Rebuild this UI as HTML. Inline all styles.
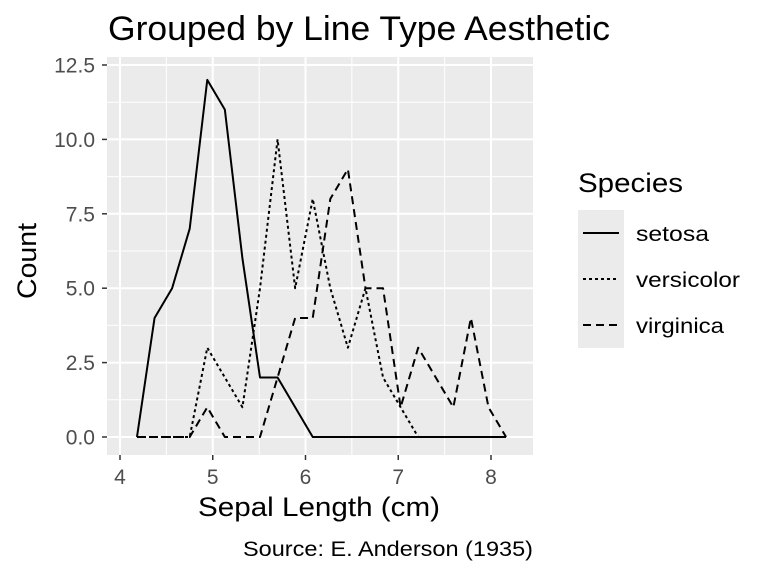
<!DOCTYPE html>
<html><head><meta charset="utf-8"><style>
body{margin:0;background:#fff;font-family:"Liberation Sans",Arial,sans-serif}
</style></head><body>
<svg width="768" height="576" xmlns="http://www.w3.org/2000/svg" font-family="Liberation Sans, Arial, sans-serif">
<rect width="768" height="576" fill="#fff"/>
<text x="108" y="40" font-size="34" textLength="502" lengthAdjust="spacingAndGlyphs" fill="#000">Grouped by Line Type Aesthetic</text>
<rect x="107" y="57" width="426" height="398" fill="#ebebeb"/>
<g id="grid"></g>
<g id="lines"></g>
<g id="axes"></g>
<text x="319" y="516" font-size="27" textLength="242" lengthAdjust="spacingAndGlyphs" text-anchor="middle">Sepal Length (cm)</text>
<text transform="translate(36,261) rotate(-90)" font-size="27" textLength="76" lengthAdjust="spacingAndGlyphs" text-anchor="middle">Count</text>
<text x="533" y="556" font-size="21" textLength="290" lengthAdjust="spacingAndGlyphs" text-anchor="end">Source: E. Anderson (1935)</text>
<g>
<text x="578" y="192" font-size="27" textLength="105" lengthAdjust="spacingAndGlyphs">Species</text>
<rect x="578" y="210" width="46" height="138" fill="#ebebeb"/>
<line x1="583" y1="233" x2="619" y2="233" stroke="#000" stroke-width="2"/>
<line x1="583" y1="279" x2="619" y2="279" stroke="#000" stroke-width="2" stroke-dasharray="3,3"/>
<line x1="583" y1="325" x2="619" y2="325" stroke="#000" stroke-width="2" stroke-dasharray="8,5"/>
<text x="636" y="241" font-size="21" textLength="73" lengthAdjust="spacingAndGlyphs">setosa</text>
<text x="636" y="287" font-size="21" textLength="104" lengthAdjust="spacingAndGlyphs">versicolor</text>
<text x="636" y="333" font-size="21" textLength="88" lengthAdjust="spacingAndGlyphs">virginica</text>
</g>
</svg>
<script>
const binStart = 4.183, binWidth = 0.1895;
const setosa = [0,4,5,7,12,11,6,2,2,1,0,0,0,0,0,0,0,0,0,0,0,0];
const versicolor = [0,0,0,0,3,2,1,5,10,5,8,5,3,5,2,1,0,0,0,0,0,0];
const virginica = [0,0,0,0,1,0,0,0,2,4,4,8,9,5,5,1,3,2,1,4,1,0];
const xTicks = [4,5,6,7,8];
const yTicks = [0,2.5,5,7.5,10,12.5];
const X = v => 120 + (v-4)*92.75;
const Y = v => 437 - v*29.76;
const NS="http://www.w3.org/2000/svg";
function mk(tag, attrs, parent){const e=document.createElementNS(NS,tag);for(const k in attrs)e.setAttribute(k,attrs[k]);document.getElementById(parent).appendChild(e);return e;}
for(let i=0;i<xTicks.length-1;i++){const m=(xTicks[i]+xTicks[i+1])/2;const e=mk('line',{x1:X(m),x2:X(m),y1:57,y2:455,stroke:'#fff','stroke-width':1},'grid');

}
for(let i=0;i<yTicks.length-1;i++){const m=(yTicks[i]+yTicks[i+1])/2;const e=mk('line',{x1:107,x2:533,y1:Y(m),y2:Y(m),stroke:'#fff','stroke-width':1},'grid');

}
xTicks.forEach(t=>{const e=mk('line',{x1:X(t),x2:X(t),y1:57,y2:455,stroke:'#fff','stroke-width':2},'grid');


const tk=mk('line',{x1:X(t),x2:X(t),y1:455,y2:460,stroke:'#333','stroke-width':1.5},'axes');


const l=mk('text',{x:X(t),y:484,'font-size':21,'text-anchor':'middle',fill:'#4d4d4d'},'axes');l.textContent=t;

});
yTicks.forEach(t=>{const e=mk('line',{x1:107,x2:533,y1:Y(t),y2:Y(t),stroke:'#fff','stroke-width':2},'grid');


const tk=mk('line',{x1:102,x2:107,y1:Y(t),y2:Y(t),stroke:'#333','stroke-width':1.5},'axes');


const l=mk('text',{x:95,y:Y(t)+7.5,'font-size':21,'text-anchor':'end',fill:'#4d4d4d'},'axes');l.textContent=t.toFixed(1);

});
function series(arr,dash,name){const pts=arr.map((v,i)=>X(binStart+i*binWidth)+','+Y(v)).join(' ');
const p=mk('polyline',{points:pts,fill:'none',stroke:'#000','stroke-width':2,'stroke-dasharray':dash,'stroke-linejoin':'round'},'lines');

}
series(setosa,'none','line-setosa');
series(versicolor,'3,3','line-versicolor');
series(virginica,'8,5','line-virginica');
</script>
</body></html>
